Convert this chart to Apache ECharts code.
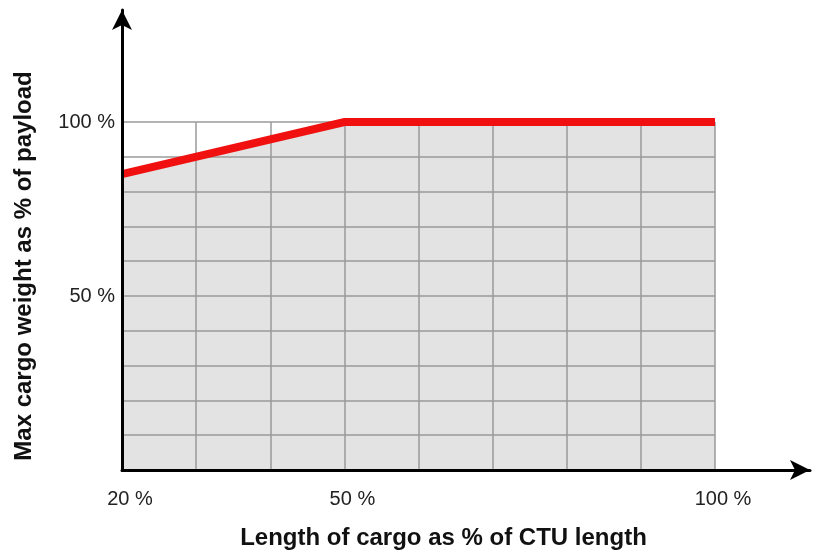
<!DOCTYPE html>
<html>
<head>
<meta charset="utf-8">
<script src="https://cdn.jsdelivr.net/npm/echarts@6/dist/echarts.min.js"></script>
<style>
  html, body { margin: 0; padding: 0; background: #fff; }
  #chart { width: 818px; height: 551px; }
</style>
</head>
<body>
<div id="chart"></div>
<script>
// cargo length (% of CTU length) -> max cargo weight (% of payload)
var cargoLength = [20, 50, 100]
var maxWeight = [85, 100, 100]
var xTickLabels = [20, 50, 100]
var yTickLabels = [50, 100]

var font = "'Liberation Sans', Arial, sans-serif"
var points = cargoLength.map(function (x, i) { return [x, maxWeight[i]] })

var chart = echarts.init(document.getElementById('chart'))
chart.setOption({
  animation: false,
  grid: [
    { left: 122, right: 103, top: 122, bottom: 81, outerBoundsMode: 'none' }, // data area
    { left: 122, right: 8, top: 10, bottom: 81, outerBoundsMode: 'none' } // arrows only
  ],
  xAxis: [
    {
      gridIndex: 0, type: 'value', min: 20, max: 100, interval: 10, z: 2,
      axisLine: { show: false },
      axisTick: { show: false },
      splitLine: { show: true, lineStyle: { color: '#9a9a9a', width: 1.5 } },
      axisLabel: {
        margin: 19, fontFamily: font, fontSize: 20, color: '#222', padding: [0, 0, 0, 16],
        formatter: function (v) { return xTickLabels.indexOf(v) > -1 ? v + ' %' : '' }
      },
      name: 'Length of cargo as % of CTU length',
      nameLocation: 'middle',
      nameGap: 56,
      nameTextStyle: { fontFamily: font, fontSize: 24, fontWeight: 'bold', color: '#111', padding: [0, 0, 0, 50] }
    },
    {
      gridIndex: 1, type: 'value', min: 0, max: 1, z: 4,
      axisLine: { show: true, symbol: ['none', 'arrow'], symbolSize: [15, 20], lineStyle: { color: '#000', width: 3 } },
      axisTick: { show: false }, axisLabel: { show: false }, splitLine: { show: false }
    }
  ],
  yAxis: [
    {
      gridIndex: 0, type: 'value', min: 0, max: 100, interval: 10, z: 2,
      axisLine: { show: false },
      axisTick: { show: false },
      splitLine: { show: true, lineStyle: { color: '#9a9a9a', width: 1.5 } },
      axisLabel: {
        margin: 7, fontFamily: font, fontSize: 20, color: '#222',
        formatter: function (v) { return yTickLabels.indexOf(v) > -1 ? v + ' %' : '' }
      },
      name: 'Max cargo weight as % of payload',
      nameLocation: 'middle',
      nameGap: 86,
      nameTextStyle: { fontFamily: font, fontSize: 24, fontWeight: 'bold', color: '#111', padding: [0, 0, 0, 60] }
    },
    {
      gridIndex: 1, type: 'value', min: 0, max: 1, z: 4,
      axisLine: { show: true, symbol: ['none', 'arrow'], symbolSize: [15, 20], lineStyle: { color: '#000', width: 3 } },
      axisTick: { show: false }, axisLabel: { show: false }, splitLine: { show: false }
    }
  ],
  series: [
    {
      // grey fill under the limit line, below the grid lines
      type: 'line', xAxisIndex: 0, yAxisIndex: 0, z: 1,
      data: points, symbol: 'none', silent: true,
      lineStyle: { width: 0 },
      areaStyle: { color: '#e3e3e3', opacity: 1 }
    },
    {
      // red limit line on top
      type: 'line', xAxisIndex: 0, yAxisIndex: 0, z: 3,
      data: points, symbol: 'none',
      lineStyle: { color: '#f01010', width: 8, cap: 'butt', join: 'miter' }
    }
  ]
})
</script>
</body>
</html>
